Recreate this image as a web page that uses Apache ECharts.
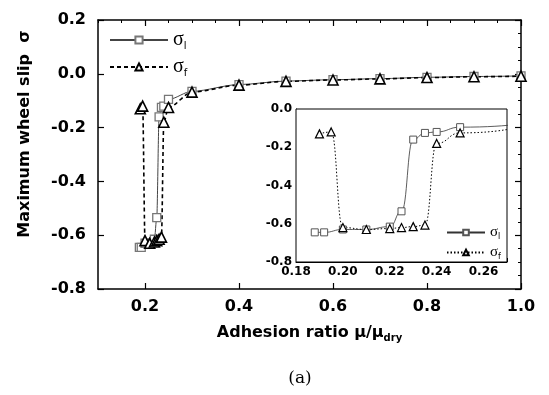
<!DOCTYPE html>
<html>
<head>
<meta charset="utf-8">
<script src="https://cdn.jsdelivr.net/npm/echarts@6/dist/echarts.min.js"></script>
<style>
  html, body { margin: 0; padding: 0; background: #fff; }
  #chart { width: 549px; height: 395px; }
</style>
</head>
<body>
<div id="chart"></div>
<script>
// adhesion ratio / slip of leading (squares) and following (triangles) wheel
var xL = [0.188, 0.192, 0.20, 0.21, 0.22, 0.225, 0.23, 0.235, 0.24, 0.25, 0.3, 0.4, 0.5, 0.6, 0.7, 0.8, 0.9, 1.0];
var yL = [-0.645, -0.645, -0.63, -0.63, -0.615, -0.535, -0.16, -0.125, -0.12, -0.095, -0.065, -0.04, -0.027, -0.022, -0.018, -0.013, -0.01, -0.008];
var xF = [0.19, 0.195, 0.20, 0.21, 0.22, 0.225, 0.23, 0.235, 0.24, 0.25, 0.3, 0.4, 0.5, 0.6, 0.7, 0.8, 0.9, 1.0];
var yF = [-0.13, -0.12, -0.62, -0.63, -0.625, -0.62, -0.615, -0.607, -0.18, -0.125, -0.068, -0.042, -0.028, -0.023, -0.019, -0.014, -0.011, -0.009];
var xMajor = [0.2, 0.4, 0.6, 0.8, 1.0];

function pairs(xs, ys) {
  return xs.map(function (x, i) { return [x, ys[i]]; });
}

var labelFont = { color: '#000', fontFamily: 'DejaVu Sans', fontWeight: 'bold', fontSize: 16 };
var insetFont = { color: '#000', fontFamily: 'DejaVu Sans', fontWeight: 'bold', fontSize: 12 };
var blackLine = { onZero: false, lineStyle: { color: '#000', width: 1.5 } };

function tickAxis(opts) {
  // helper for the tick-only axes round the main frame
  return Object.assign({
    type: 'value', gridIndex: 0,
    axisLine: { show: false, onZero: false },
    axisLabel: { show: false },
    splitLine: { show: false }
  }, opts);
}

var names = { sl: 'l', sf: 'f', isl: 'l', isf: 'f' };

var chart = echarts.init(document.getElementById('chart'));
chart.setOption({
  animation: false,
  grid: [
    { left: 98, top: 20, right: 28, bottom: 106 },
    { left: 296, top: 109, right: 42, bottom: 133, show: true, backgroundColor: '#fff', borderColor: '#000', borderWidth: 1, z: 5 }
  ],
  legend: [
    {
      data: ['sl', 'sf'], orient: 'vertical', left: 104, top: 25, itemWidth: 58, itemHeight: 9, itemGap: 6,
      formatter: function (n) { return '{s|σ}{b|' + names[n] + '}'; },
      textStyle: { rich: { s: { fontSize: 20, fontFamily: 'Liberation Serif', color: '#000' }, b: { fontSize: 10, fontFamily: 'DejaVu Sans', color: '#000', padding: [12, 0, 0, 0] } } }
    },
    {
      data: ['isl', 'isf'], orient: 'vertical', left: 441, top: 220, itemWidth: 38, itemHeight: 7, itemGap: 4, z: 10,
      formatter: function (n) { return '{s|σ}{b|' + names[n] + '}'; },
      textStyle: { rich: { s: { fontSize: 15, fontFamily: 'Liberation Serif', color: '#000' }, b: { fontSize: 8, fontFamily: 'DejaVu Sans', color: '#000', padding: [9, 0, 0, 0] } } }
    }
  ],
  xAxis: [
    {
      type: 'value', gridIndex: 0, min: 0.1, max: 1.0,
      name: 'Adhesion ratio μ/μ{d|dry}', nameLocation: 'middle', nameGap: 34,
      nameTextStyle: { color: '#000', fontFamily: 'DejaVu Sans', fontWeight: 'bold', fontSize: 16, rich: { d: { fontFamily: 'DejaVu Sans', fontWeight: 'bold', fontSize: 10, padding: [10, 0, 0, 0] } } },
      axisLine: blackLine,
      axisTick: { inside: true, length: 6, customValues: xMajor, lineStyle: { color: '#000', width: 1.2 } },
      axisLabel: Object.assign({ margin: 10, customValues: xMajor, formatter: function (v) { return v.toFixed(1); } }, labelFont),
      splitLine: { show: false }
    },
    tickAxis({ min: 0.1, max: 1.0, interval: 0.05, axisTick: { inside: true, length: 3, lineStyle: { color: '#000' } } }),
    tickAxis({ position: 'top', min: 0.1, max: 1.0, axisLine: blackLine, axisTick: { inside: true, length: 6, customValues: xMajor, lineStyle: { color: '#000', width: 1.2 } } }),
    tickAxis({ position: 'top', min: 0.1, max: 1.0, interval: 0.05, axisTick: { inside: true, length: 3, lineStyle: { color: '#000' } } }),
    {
      type: 'value', gridIndex: 1, min: 0.18, max: 0.27, interval: 0.02,
      axisLine: { onZero: false, lineStyle: { color: '#000', width: 1 } },
      axisTick: { inside: true, length: 4, lineStyle: { color: '#000' } },
      minorTick: { show: true, splitNumber: 2, length: 2, lineStyle: { color: '#000' } },
      axisLabel: Object.assign({ margin: 4, formatter: function (v) { return v.toFixed(2); } }, insetFont),
      splitLine: { show: false }
    }
  ],
  yAxis: [
    {
      type: 'value', gridIndex: 0, min: -0.8, max: 0.2, interval: 0.2,
      axisLine: blackLine,
      axisTick: { inside: true, length: 6, lineStyle: { color: '#000', width: 1.2 } },
      axisLabel: Object.assign({ margin: 12, formatter: function (v) { return v.toFixed(1); } }, labelFont),
      splitLine: { show: false }
    },
    tickAxis({ min: -0.8, max: 0.2, interval: 0.05, axisTick: { inside: true, length: 3, lineStyle: { color: '#000' } } }),
    tickAxis({ position: 'right', min: -0.8, max: 0.2, interval: 0.2, axisLine: blackLine, axisTick: { inside: true, length: 6, lineStyle: { color: '#000', width: 1.2 } } }),
    tickAxis({ position: 'right', min: -0.8, max: 0.2, interval: 0.05, axisTick: { inside: true, length: 3, lineStyle: { color: '#000' } } }),
    {
      type: 'value', gridIndex: 1, min: -0.8, max: 0, interval: 0.2,
      axisLine: { onZero: false, lineStyle: { color: '#000', width: 1 } },
      axisTick: { inside: true, length: 4, lineStyle: { color: '#000' } },
      minorTick: { show: true, splitNumber: 2, length: 2, lineStyle: { color: '#000' } },
      axisLabel: Object.assign({ margin: 4, formatter: function (v) { return v.toFixed(1); } }, insetFont),
      splitLine: { show: false }
    }
  ],
  series: [
    {
      name: 'sl', type: 'line', xAxisIndex: 0, yAxisIndex: 0, data: pairs(xL, yL),
      smooth: 0.3, smoothMonotone: 'x',
      symbol: 'rect', symbolSize: 8,
      lineStyle: { color: '#444', width: 1 },
      itemStyle: { color: '#fff', borderColor: '#777', borderWidth: 1.3 }
    },
    {
      name: 'sf', type: 'line', xAxisIndex: 0, yAxisIndex: 0, data: pairs(xF, yF),
      smooth: 0.3, smoothMonotone: 'x',
      symbol: 'triangle', symbolSize: 10,
      lineStyle: { color: '#000', width: 1.6, type: [4, 3] },
      itemStyle: { color: '#fff', borderColor: '#000', borderWidth: 1.6 }
    },
    {
      name: 'isl', type: 'line', xAxisIndex: 4, yAxisIndex: 4, data: pairs(xL, yL), z: 6,
      smooth: 0.5, smoothMonotone: 'x', clip: true,
      symbol: 'rect', symbolSize: 7,
      lineStyle: { color: '#333', width: 0.8 },
      itemStyle: { color: '#fff', borderColor: '#555', borderWidth: 1 }
    },
    {
      name: 'isf', type: 'line', xAxisIndex: 4, yAxisIndex: 4, data: pairs(xF, yF), z: 6,
      smooth: 0.5, smoothMonotone: 'x', clip: true,
      symbol: 'triangle', symbolSize: 8,
      lineStyle: { color: '#000', width: 1, type: [1.5, 2] },
      itemStyle: { color: '#fff', borderColor: '#000', borderWidth: 1.2 }
    }
  ],
  graphic: [
    {
      type: 'text', x: 25, y: 134, rotation: Math.PI / 2,
      style: { text: 'Maximum wheel slip  σ', font: 'bold 16px "DejaVu Sans"', fill: '#000', textAlign: 'center', textVerticalAlign: 'middle' }
    },
    {
      type: 'text', x: 300, y: 379,
      style: { text: '(a)', font: '17px "DejaVu Serif"', fill: '#000', textAlign: 'center', textVerticalAlign: 'middle' }
    }
  ]
});
</script>
</body>
</html>
